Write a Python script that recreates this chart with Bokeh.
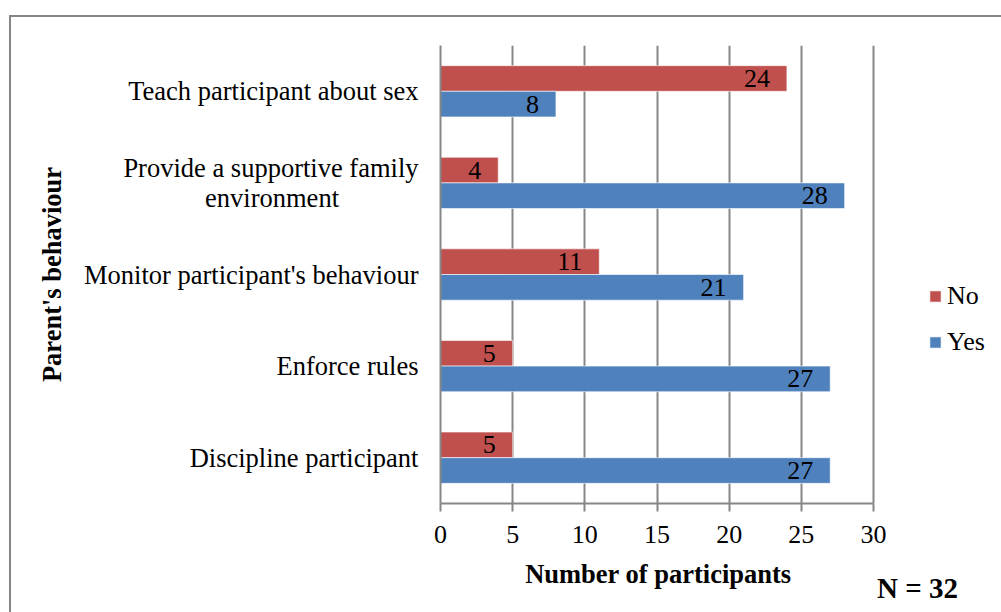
from bokeh.plotting import figure
from bokeh.models import (Range1d, FixedTicker, Legend, LegendItem,
                          ColumnDataSource, Label)
from bokeh.transform import dodge
from bokeh.core.properties import value
from bokeh.embed import file_html
from bokeh.resources import INLINE

# Parent behaviours, bottom to top; "\n" marks a wrapped label
behaviours = [
    "Discipline participant",
    "Enforce rules",
    "Monitor participant's behaviour",
    "Provide a supportive family\nenvironment",
    "Teach participant about sex",
]
no_counts = [5, 5, 11, 4, 24]
yes_counts = [27, 27, 21, 28, 8]
x_ticks = [0, 5, 10, 15, 20, 25, 30]
sample_note = "N = 32"

SERIF = "Liberation Serif"
GREY = "#868686"
RED = "#C0504D"
BLUE = "#4F81BD"

# frame geometry in pixels
FRAME_LEFT, FRAME_RIGHT = 440, 995
AXIS_RIGHT = 873                      # pixel where the value axis ends (x = 30)

X_MAX = 30
# the plot frame runs on past the last tick to leave room for the legend
X_VIEW_END = X_MAX * (FRAME_RIGHT - FRAME_LEFT) / (AXIS_RIGHT - FRAME_LEFT)

BAND = 100          # height of one category band in y units
LINE_GAP = 32       # spacing of wrapped label lines in y units

centers = [BAND * i + BAND // 2 for i in range(len(behaviours))]

src = ColumnDataSource(dict(
    y=centers,
    no=no_counts,
    yes=yes_counts,
    no_txt=[str(v) for v in no_counts],
    yes_txt=[str(v) for v in yes_counts],
))

# one tick per label line so wrapped labels sit as a stacked block
y_ticks, y_labels = [], {}
for c, name in zip(centers, behaviours):
    lines = name.split("\n")
    n = len(lines)
    for k, line in enumerate(lines):
        t = int(c + (n - 1) * LINE_GAP / 2 - k * LINE_GAP)
        y_ticks.append(t)
        # later lines are centred under the first one
        if k > 0:
            pad = max(0, round((len(lines[0]) - len(line)) * 0.5 * 1.5))
            line = line + "\u00a0" * pad
        y_labels[t] = line

p = figure(width=1001, height=612, output_backend="svg", toolbar_location=None,
           y_range=Range1d(0, BAND * len(behaviours)),
           x_range=Range1d(0, X_VIEW_END),
           min_border_left=FRAME_LEFT, min_border_right=1001 - FRAME_RIGHT,
           min_border_top=45, min_border_bottom=109)

p.outline_line_color = None
p.background_fill_color = "white"
p.border_fill_color = None
# chart-area frame: thin grey rule along the left and top edges
p.styles = {
    "background-color": "white",
    "background-image": "linear-gradient(#868686, #868686), linear-gradient(#868686, #868686)",
    "background-position": "9px 15px, 9px 15px",
    "background-size": "2px 100%, 100% 2px",
    "background-repeat": "no-repeat",
}

bar_h = 28
r_no = p.hbar(y=dodge("y", 14), right="no", left=0, height=bar_h, source=src,
              fill_color=RED, line_color="white", line_alpha=0.6, line_width=1)
r_yes = p.hbar(y=dodge("y", -14), right="yes", left=0, height=bar_h, source=src,
               fill_color=BLUE, line_color="white", line_alpha=0.6, line_width=1)

# value labels inside the end of each bar
for col, txt, off in (("no", "no_txt", 14), ("yes", "yes_txt", -14)):
    p.text(x=col, y=dodge("y", off), text=txt, source=src,
           x_offset=-17, text_align="right", text_baseline="middle",
           text_font=value(SERIF), text_font_size="26px", text_color="black")

# grid
p.ygrid.grid_line_color = None
p.xgrid.grid_line_color = GREY
p.xgrid.grid_line_width = 2
p.xgrid.ticker = FixedTicker(ticks=x_ticks)

# x axis
TITLE_PX = 26.5
# the axis title is centred on the whole frame; trailing no-break spaces
# pull it back over the 0-30 part of the axis
shift = ((FRAME_LEFT + FRAME_RIGHT) / 2) - ((FRAME_LEFT + AXIS_RIGHT) / 2)
title_pad = "\u00a0" * round(2 * shift / (0.25 * TITLE_PX))

xa = p.xaxis[0]
xa.bounds = (0, X_MAX)
xa.ticker = FixedTicker(ticks=x_ticks)
xa.axis_line_color = GREY
xa.axis_line_width = 2
xa.major_tick_line_color = GREY
xa.major_tick_line_width = 2
xa.major_tick_in = 0
xa.major_tick_out = 8
xa.minor_tick_line_color = None
xa.major_label_text_font = SERIF
xa.major_label_text_font_size = "26px"
xa.major_label_text_color = "black"
xa.major_label_standoff = 14
xa.axis_label = "Number of participants" + title_pad
xa.axis_label_text_font = SERIF
xa.axis_label_text_font_style = "bold"
xa.axis_label_text_font_size = f"{TITLE_PX}px"
xa.axis_label_text_color = "black"
xa.axis_label_standoff = 13

# y axis
ya = p.yaxis[0]
ya.ticker = FixedTicker(ticks=y_ticks)
ya.major_label_overrides = y_labels
ya.axis_line_color = GREY
ya.axis_line_width = 2
ya.major_tick_line_color = None
ya.minor_tick_line_color = None
ya.major_tick_out = 0
ya.major_tick_in = 0
ya.major_label_standoff = 22
ya.major_label_text_font = SERIF
ya.major_label_text_font_size = "26.5px"
ya.major_label_text_color = "black"
ya.axis_label = "Parent's behaviour"
ya.axis_label_text_font = SERIF
ya.axis_label_text_font_style = "bold"
ya.axis_label_text_font_size = f"{TITLE_PX}px"
ya.axis_label_text_color = "black"
ya.axis_label_standoff = 14

# legend to the right of the bars
legend = Legend(items=[LegendItem(label="No", renderers=[r_no]),
                       LegendItem(label="Yes", renderers=[r_yes])],
                location=(488, 146), orientation="vertical",
                glyph_width=14, glyph_height=14, label_height=30,
                label_standoff=5, spacing=16, padding=0, margin=0,
                border_line_color=None, background_fill_alpha=0,
                label_text_font=SERIF, label_text_font_size="26px",
                label_text_color="black")
p.add_layout(legend, "center")

# sample size note, bottom right of the chart (canvas pixels)
p.add_layout(Label(x=917, y=587, x_units="canvas", y_units="canvas",
                   text=sample_note, text_align="center", text_baseline="middle",
                   text_font=SERIF, text_font_style="bold",
                   text_font_size="29px", text_color="black"), "above")

open("out.html", "w").write(file_html(p, INLINE))
